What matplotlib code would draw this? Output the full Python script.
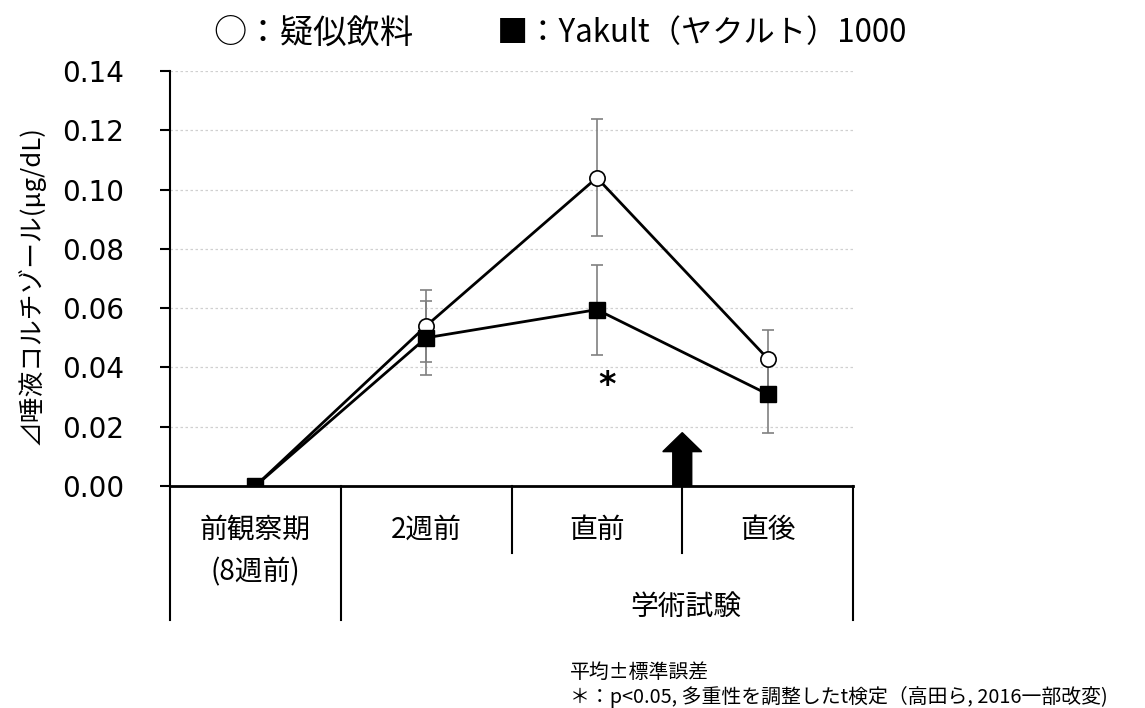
import numpy as np
import matplotlib.pyplot as plt
from matplotlib.patches import FancyArrow

plt.rcParams['font.family'] = ['Noto Sans CJK JP', 'DejaVu Sans']

# Data
periods = ['前観察期', '2週前', '直前', '直後']
placebo_mean = [0.0, 0.054, 0.104, 0.043]
placebo_se = [0.0, 0.012, 0.0197, 0.0095]
yakult_mean = [0.0, 0.050, 0.0595, 0.031]
yakult_se = [0.0, 0.0125, 0.0152, 0.013]
yticks = [0.00, 0.02, 0.04, 0.06, 0.08, 0.10, 0.12, 0.14]

x = np.arange(len(periods))

fig = plt.figure(figsize=(11.45, 7.08), dpi=100)
ax = fig.add_axes([170 / 1145, 1 - 486 / 708, 683 / 1145, 415 / 708])

# error bars (behind the markers)
ax.errorbar(x[1:], placebo_mean[1:], yerr=placebo_se[1:], fmt='none',
            ecolor='#808080', elinewidth=1.2, capsize=4, capthick=1.2, zorder=2)
ax.errorbar(x[1:], yakult_mean[1:], yerr=yakult_se[1:], fmt='none',
            ecolor='#808080', elinewidth=1.2, capsize=4, capthick=1.2, zorder=2)

# lines
ax.plot(x, placebo_mean, color='black', lw=2, marker='o', markersize=11,
        markerfacecolor='white', markeredgecolor='black', markeredgewidth=1.2, zorder=3)
ax.plot(x, yakult_mean, color='black', lw=2, marker='s', markersize=11,
        markerfacecolor='black', markeredgecolor='black', zorder=4)

ax.set_xlim(-0.5, 3.5)
ax.set_ylim(0, 0.14)
ax.set_yticks(yticks)
ax.set_yticklabels([f'{v:.2f}' for v in yticks], fontsize=20, family='DejaVu Sans')
ax.tick_params(axis='y', direction='out', length=7, width=1.5, pad=26)
ax.set_xticks([])

for v in yticks[1:]:
    ax.axhline(v, color='#d0d0d0', lw=0.9, ls=(0, (2, 2)), zorder=1)

ax.spines['top'].set_visible(False)
ax.spines['right'].set_visible(False)
ax.spines['left'].set_linewidth(1.5)
ax.spines['bottom'].set_linewidth(2)
ax.spines['bottom'].set_zorder(5)

ax.set_ylabel('⊿唾液コルチゾール(μg/dL)', fontsize=18.5)
ax.yaxis.set_label_coords(-0.183, 0.484)

# category table below the axis
trans = ax.get_xaxis_transform()
bounds = [-0.5, 0.5, 1.5, 2.5, 3.5]
depths = [-0.323, -0.323, -0.161, -0.161, -0.323]
for b, d in zip(bounds, depths):
    ax.plot([b, b], [0, d], transform=trans, color='black', lw=1.5, clip_on=False)

for xi, lab in zip(x, periods):
    ax.text(xi, -0.106, lab, transform=trans, ha='center', va='center', fontsize=20)
ax.text(0, -0.207, '(8週前)', transform=trans, ha='center', va='center', fontsize=20)
ax.text(2.52, -0.292, '学術試験', transform=trans, ha='center', va='center', fontsize=20)

# significance mark and exam arrow
ax.text(2.06, 0.034, '*', ha='center', va='center', fontsize=24,
        fontweight='bold', family='DejaVu Sans')
ax.add_patch(FancyArrow(2.5, 0, 0, 0.018, width=0.111, head_width=0.228,
                        head_length=0.0064, length_includes_head=True,
                        color='black', zorder=6, clip_on=False))

# legend text
fig.text(213 / 1145, 1 - 33 / 708, '○：疑似飲料', fontsize=24, va='center')
fig.text(497 / 1145, 1 - 33 / 708, '■：Yakult（ヤクルト）1000', fontsize=22.5, va='center')

# footnote
fig.text(570 / 1145, 1 - 672 / 708, '平均±標準誤差', fontsize=14.3, va='center')
fig.text(570 / 1145, 1 - 697 / 708, '＊：p<0.05, 多重性を調整したt検定（高田ら, 2016一部改変)',
         fontsize=14.3, va='center')

fig.savefig('out.png', dpi=100)
